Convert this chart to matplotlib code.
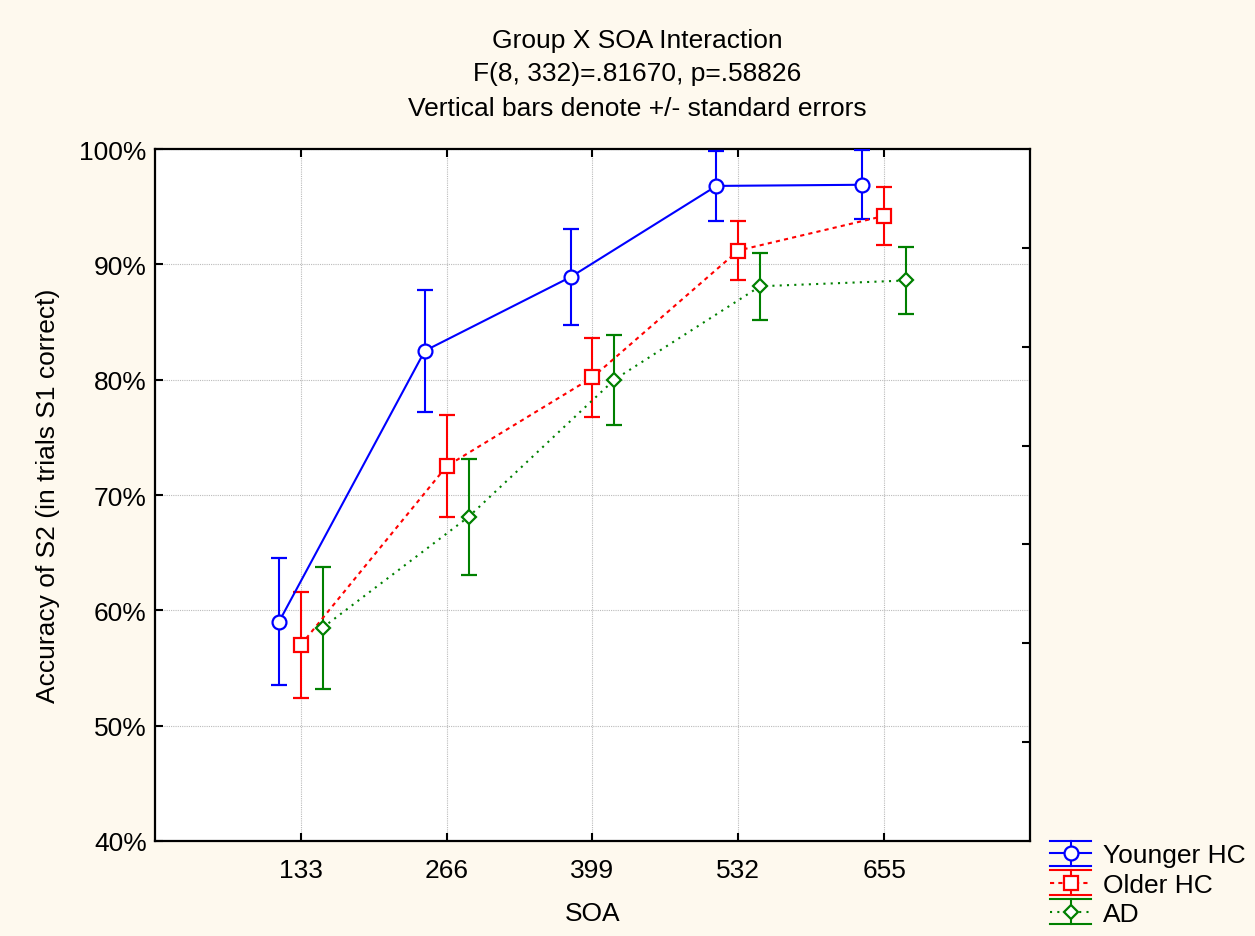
import matplotlib
matplotlib.use("Agg")
import matplotlib.pyplot as plt
import numpy as np
from matplotlib.ticker import FuncFormatter
from matplotlib.lines import Line2D

plt.rcParams['font.family'] = ['Liberation Sans', 'DejaVu Sans']

soa = ["133", "266", "399", "532", "655"]
groups = ["Younger HC", "Older HC", "AD"]
younger_mean = [59.0, 82.5, 88.9, 96.8, 96.9]
younger_se = [5.5, 5.3, 4.2, 3.0, 3.0]
older_mean = [57.0, 72.5, 80.2, 91.2, 94.2]
older_se = [4.6, 4.4, 3.4, 2.6, 2.5]
ad_mean = [58.5, 68.1, 80.0, 88.1, 88.6]
ad_se = [5.3, 5.0, 3.9, 2.9, 2.9]

means = [younger_mean, older_mean, ad_mean]
ses = [younger_se, older_se, ad_se]
colors = ['#0000FF', '#FF0000', '#008000']
markers = ['o', 's', 'D']
msizes = [10, 10, 7.5]
lstyles = ['-', (0, (2, 2)), (0, (1, 2.5))]
offsets = [-0.15, 0.0, 0.15]

FS = 19

fig = plt.figure(figsize=(12.55, 9.37), dpi=100, facecolor='#FEF9EE')
ax = fig.add_axes([0.1235, 0.1014, 0.6972, 0.7385])
ax.set_facecolor('white')

x = np.arange(1, len(soa) + 1)
proxies = []
proxy_styles = {}
for m, s, c, mk, ms, ls, off, name in zip(means, ses, colors, markers, msizes, lstyles, offsets, groups):
    ax.errorbar(x + off, m, yerr=s, color=c, marker=mk, markersize=ms,
                markerfacecolor='white', markeredgecolor=c, markeredgewidth=1.6,
                linestyle=ls, linewidth=1.5, elinewidth=1.5, capsize=6, capthick=1.5,
                zorder=3)
    p = Line2D([], [], color=c, marker=mk, markersize=ms, linestyle=ls,
               linewidth=1.5, markerfacecolor='white', markeredgecolor=c,
               markeredgewidth=1.6, label=name)
    proxy_styles[id(p)] = ls
    proxies.append(p)


class ErrHandler:
    def legend_artist(self, legend, orig_handle, fontsize, handlebox):
        x0, y0 = handlebox.xdescent, handlebox.ydescent
        w, h = handlebox.width, handlebox.height
        yc = y0 + h / 2
        half = 9  # points
        c = orig_handle.get_color()
        ls = proxy_styles.get(id(orig_handle), '-')
        arts = [
            Line2D([x0, x0 + w], [yc, yc], color=c, linestyle=ls, linewidth=1.5),
            Line2D([x0 + w / 2, x0 + w / 2], [yc - half, yc + half], color=c, linewidth=1.5),
            Line2D([x0, x0 + w], [yc - half, yc - half], color=c, linewidth=1.5),
            Line2D([x0, x0 + w], [yc + half, yc + half], color=c, linewidth=1.5),
            Line2D([x0 + w / 2], [yc], marker=orig_handle.get_marker(),
                   markersize=orig_handle.get_markersize(), markerfacecolor='white',
                   markeredgecolor=c, markeredgewidth=1.6, linestyle='none'),
        ]
        for a in arts:
            a.set_transform(handlebox.get_transform())
            handlebox.add_artist(a)
        return arts[0]


ax.set_xlim(0, 6)
ax.set_ylim(40, 100)
ax.set_xticks(x)
ax.set_xticklabels(soa)
ax.set_yticks(np.arange(40, 101, 10))
ax.yaxis.set_major_formatter(FuncFormatter(lambda v, p: f"{int(round(v))}%"))
ax.tick_params(direction='in', length=6, width=1.5, labelsize=FS,
               top=True, right=False, colors='black')
ax.tick_params(axis='x', pad=12)
ax.tick_params(axis='y', pad=6)
ax.grid(True, color='#bbbbbb', linestyle=(0, (1, 1)), linewidth=0.8)
for sp in ax.spines.values():
    sp.set_linewidth(1.6)

# right side ticks (7 divisions, no labels)
axr = ax.twinx()
axr.set_ylim(40, 100)
axr.set_yticks([40 + 60 * k / 7 for k in range(1, 7)])
axr.set_yticklabels([])
axr.tick_params(direction='in', length=6, width=1.5)
for sp in axr.spines.values():
    sp.set_visible(False)

ax.set_xlabel("SOA", fontsize=FS, labelpad=14)
ax.set_ylabel("Accuracy of S2 (in trials S1 correct)", fontsize=FS, labelpad=14)

fig.text(0.508, 0.956, "Group X SOA Interaction", ha='center', va='center', fontsize=FS)
fig.text(0.508, 0.921, "F(8, 332)=.81670, p=.58826", ha='center', va='center', fontsize=FS)
fig.text(0.508, 0.884, "Vertical bars denote +/- standard errors", ha='center', va='center', fontsize=FS)

fig.legend(handles=proxies, labels=groups, loc='upper left',
           bbox_to_anchor=(0.8285, 0.110), frameon=False, fontsize=FS,
           handlelength=1.55, handletextpad=0.45, labelspacing=0.2, borderaxespad=0,
           handler_map={Line2D: ErrHandler()})

fig.savefig("out.png", dpi=100, facecolor=fig.get_facecolor())
